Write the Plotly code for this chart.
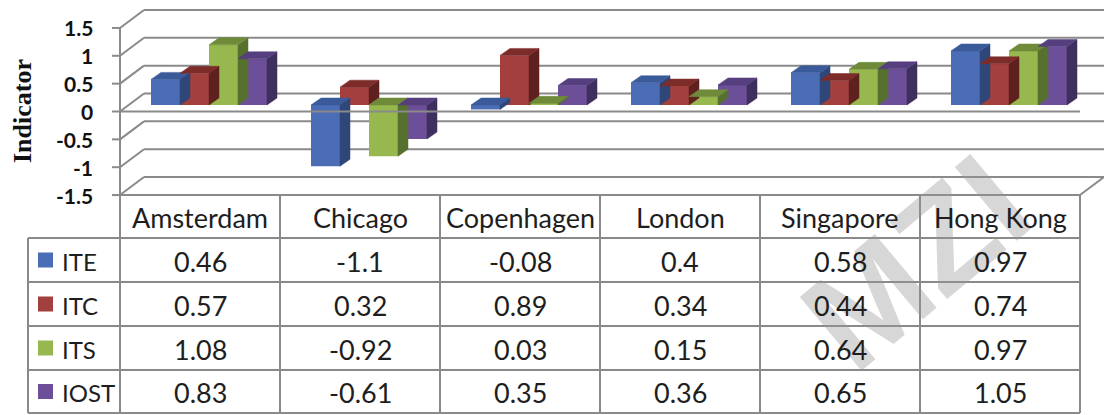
import plotly.graph_objects as go

# ---------------- data ----------------
cities = ["Amsterdam", "Chicago", "Copenhagen", "London", "Singapore", "Hong Kong"]
series_names = ["ITE", "ITC", "ITS", "IOST"]
ite = [0.46, -1.1, -0.08, 0.4, 0.58, 0.97]
itc = [0.57, 0.32, 0.89, 0.34, 0.44, 0.74]
its = [1.08, -0.92, 0.03, 0.15, 0.64, 0.97]
iost = [0.83, -0.61, 0.35, 0.36, 0.65, 1.05]
y_ticks = [1.5, 1, 0.5, 0, -0.5, -1, -1.5]
y_tick_labels = ["1.5", "1", "0.5", "0", "-0.5", "-1", "-1.5"]
axis_title = "Indicator"
watermark = "MZI"

series_values = [ite, itc, its, iost]

# ---------------- styling ----------------
front_colors = ["#4A6DB5", "#A3403D", "#97B84E", "#6C4F98"]
top_colors = ["#3B5A9A", "#7D2C2A", "#6F8B3A", "#563F7E"]
side_colors = ["#2E4678", "#5E211F", "#56702E", "#3F2F5E"]
legend_colors = ["#4A6DB5", "#A3403D", "#97B84E", "#6C4F98"]
LINE = "#8a8a8a"
TEXT = "#1e1e1e"
TABLE_FONT = "Lato"
TABLE_SIZE = 27

W, H = 1104, 415
PX_X = 160.0      # pixels per category column
PX_Y = 55.7       # pixels per value unit
X_ORIGIN_PX = 200
Y_ORIGIN_PX = 111.5


def px2x(px):
    return (px - X_ORIGIN_PX) / PX_X


def py2y(py):
    return (Y_ORIGIN_PX - py) / PX_Y


# wall depth (oblique projection)
DX = 24 / PX_X
DY = 18 / PX_Y
# bars placed part-way into the depth
BAR_DX = 9 / PX_X
BAR_DY = 6.5 / PX_Y
BAR_DEPTH_X = 10 / PX_X
BAR_DEPTH_Y = 7 / PX_Y
BAR_W = 29 / PX_X
GROUP_W = BAR_W * len(series_names)

X_LEFT = -0.5
X_RIGHT = len(cities) - 0.5
X_BACK_END = px2x(W)
Y_MIN, Y_MAX = y_ticks[-1], y_ticks[0]

fig = go.Figure()

shapes = []

# side wall diagonals + back wall gridlines
for t in y_ticks:
    shapes.append(dict(type="line", xref="x", yref="y", layer="below",
                       x0=X_LEFT, y0=t, x1=X_LEFT + DX, y1=t + DY,
                       line=dict(color=LINE, width=2)))
    shapes.append(dict(type="line", xref="x", yref="y", layer="below",
                       x0=X_LEFT + DX, y0=t + DY, x1=X_BACK_END, y1=t + DY,
                       line=dict(color=LINE, width=2)))
    # tick marks
    shapes.append(dict(type="line", xref="x", yref="y", layer="below",
                       x0=X_LEFT - 8 / PX_X, y0=t, x1=X_LEFT, y1=t,
                       line=dict(color=LINE, width=2)))

# vertical axis line
shapes.append(dict(type="line", xref="x", yref="y", layer="below",
                   x0=X_LEFT, y0=Y_MIN, x1=X_LEFT, y1=Y_MAX,
                   line=dict(color=LINE, width=2)))
# floor right edge diagonal
shapes.append(dict(type="line", xref="x", yref="y", layer="below",
                   x0=X_RIGHT, y0=Y_MIN, x1=X_RIGHT + DX, y1=Y_MIN + DY,
                   line=dict(color=LINE, width=2)))
# front zero line (drawn above the bars)
shapes.append(dict(type="line", xref="x", yref="y", layer="above",
                   x0=X_LEFT, y0=0, x1=X_RIGHT, y1=0,
                   line=dict(color=LINE, width=2)))

# ---------------- 3D bars ----------------
side_traces, top_traces, front_traces = [], [], []
for k, (name, vals) in enumerate(zip(series_names, series_values)):
    sx, sy, tx, ty = [], [], [], []
    xs = []
    for i, v in enumerate(vals):
        L = i - GROUP_W / 2 + BAR_DX + k * BAR_W
        R = L + BAR_W
        lo = BAR_DY + min(v, 0)
        hi = BAR_DY + max(v, 0)
        # side face
        sx += [R, R, R + BAR_DEPTH_X, R + BAR_DEPTH_X, R, None]
        sy += [lo, hi, hi + BAR_DEPTH_Y, lo + BAR_DEPTH_Y, lo, None]
        # top face
        tx += [L, R, R + BAR_DEPTH_X, L + BAR_DEPTH_X, L, None]
        ty += [hi, hi, hi + BAR_DEPTH_Y, hi + BAR_DEPTH_Y, hi, None]
        xs.append(L + BAR_W / 2)
    side_traces.append(go.Scatter(x=sx, y=sy, mode="lines", fill="toself",
                                  fillcolor=side_colors[k], line=dict(width=0.5, color=side_colors[k]),
                                  hoverinfo="skip", showlegend=False))
    top_traces.append(go.Scatter(x=tx, y=ty, mode="lines", fill="toself",
                                 fillcolor=top_colors[k], line=dict(width=0.5, color=top_colors[k]),
                                 hoverinfo="skip", showlegend=False))
    front_traces.append(go.Bar(x=xs, y=vals, base=[BAR_DY] * len(vals), width=BAR_W,
                               marker=dict(color=front_colors[k], line=dict(width=0)),
                               name=name, showlegend=False))

for tr in side_traces + top_traces + front_traces:
    fig.add_trace(tr)

# ---------------- data table ----------------
header_top, header_bot = 195, 238
row_edges = [238, 282, 326, 370, 413]
table_left_px = 28

# horizontal table lines
shapes.append(dict(type="line", xref="x", yref="y", layer="below",
                   x0=X_LEFT, y0=py2y(header_top), x1=X_RIGHT, y1=py2y(header_top),
                   line=dict(color=LINE, width=2)))
for py in row_edges:
    shapes.append(dict(type="line", xref="x", yref="y", layer="below",
                       x0=px2x(table_left_px), y0=py2y(py), x1=X_RIGHT, y1=py2y(py),
                       line=dict(color=LINE, width=2)))
# vertical table lines
shapes.append(dict(type="line", xref="x", yref="y", layer="below",
                   x0=px2x(table_left_px), y0=py2y(row_edges[0]), x1=px2x(table_left_px), y1=py2y(row_edges[-1]),
                   line=dict(color=LINE, width=2)))
for j in range(len(cities) + 1):
    xv = X_LEFT + j
    shapes.append(dict(type="line", xref="x", yref="y", layer="below",
                       x0=xv, y0=py2y(header_top), x1=xv, y1=py2y(row_edges[-1]),
                       line=dict(color=LINE, width=2)))

annotations = []
# watermark first so the table text is drawn on top of it
annotations.append(dict(x=px2x(915), y=py2y(262), xref="x", yref="y", text=watermark,
                        showarrow=False, textangle=-40, xanchor="center", yanchor="middle",
                        font=dict(family="Liberation Sans", size=140, weight="bold",
                                  color="rgba(150,150,150,0.38)")))
# y tick labels
for t, lab in zip(y_ticks, y_tick_labels):
    annotations.append(dict(x=px2x(95), y=t, xref="x", yref="y", text=lab, showarrow=False,
                            xanchor="right", yanchor="middle",
                            font=dict(family="Lato", size=21, color="#111111", weight="bold")))
# axis title
annotations.append(dict(x=px2x(22), y=py2y(111), xref="x", yref="y", text=axis_title,
                        showarrow=False, textangle=-90, xanchor="center", yanchor="middle",
                        font=dict(family="Liberation Serif", size=26, color="#111111", weight="bold")))
# header
for i, c in enumerate(cities):
    annotations.append(dict(x=i, y=py2y((header_top + header_bot) / 2 + 1), xref="x", yref="y",
                            text=c, showarrow=False, xanchor="center", yanchor="middle",
                            font=dict(family=TABLE_FONT, size=TABLE_SIZE, color=TEXT)))
# values + legend labels
leg_x, leg_y = [], []
for k, (name, vals) in enumerate(zip(series_names, series_values)):
    yc = py2y((row_edges[k] + row_edges[k + 1]) / 2 + 1)
    for i, v in enumerate(vals):
        annotations.append(dict(x=i, y=yc, xref="x", yref="y", text=f"{v:g}", showarrow=False,
                                xanchor="center", yanchor="middle",
                                font=dict(family=TABLE_FONT, size=TABLE_SIZE, color=TEXT)))
    annotations.append(dict(x=px2x(60), y=yc, xref="x", yref="y", text=name, showarrow=False,
                            xanchor="left", yanchor="middle",
                            font=dict(family=TABLE_FONT, size=TABLE_SIZE - 3, color=TEXT)))
    leg_x.append(px2x(45.5))
    leg_y.append(py2y((row_edges[k] + row_edges[k + 1]) / 2))

fig.add_trace(go.Scatter(x=leg_x, y=leg_y, mode="markers",
                         marker=dict(symbol="square", size=15, color=legend_colors, line=dict(width=0)),
                         hoverinfo="skip", showlegend=False))

fig.update_layout(
    width=W, height=H,
    margin=dict(l=0, r=0, t=0, b=0),
    paper_bgcolor="white", plot_bgcolor="white",
    barmode="overlay",
    showlegend=False,
    xaxis=dict(visible=False, range=[px2x(0), px2x(W)], fixedrange=True),
    yaxis=dict(visible=False, range=[py2y(H), py2y(0)], fixedrange=True),
    shapes=shapes,
    annotations=annotations,
)

fig.write_html("out.html")
